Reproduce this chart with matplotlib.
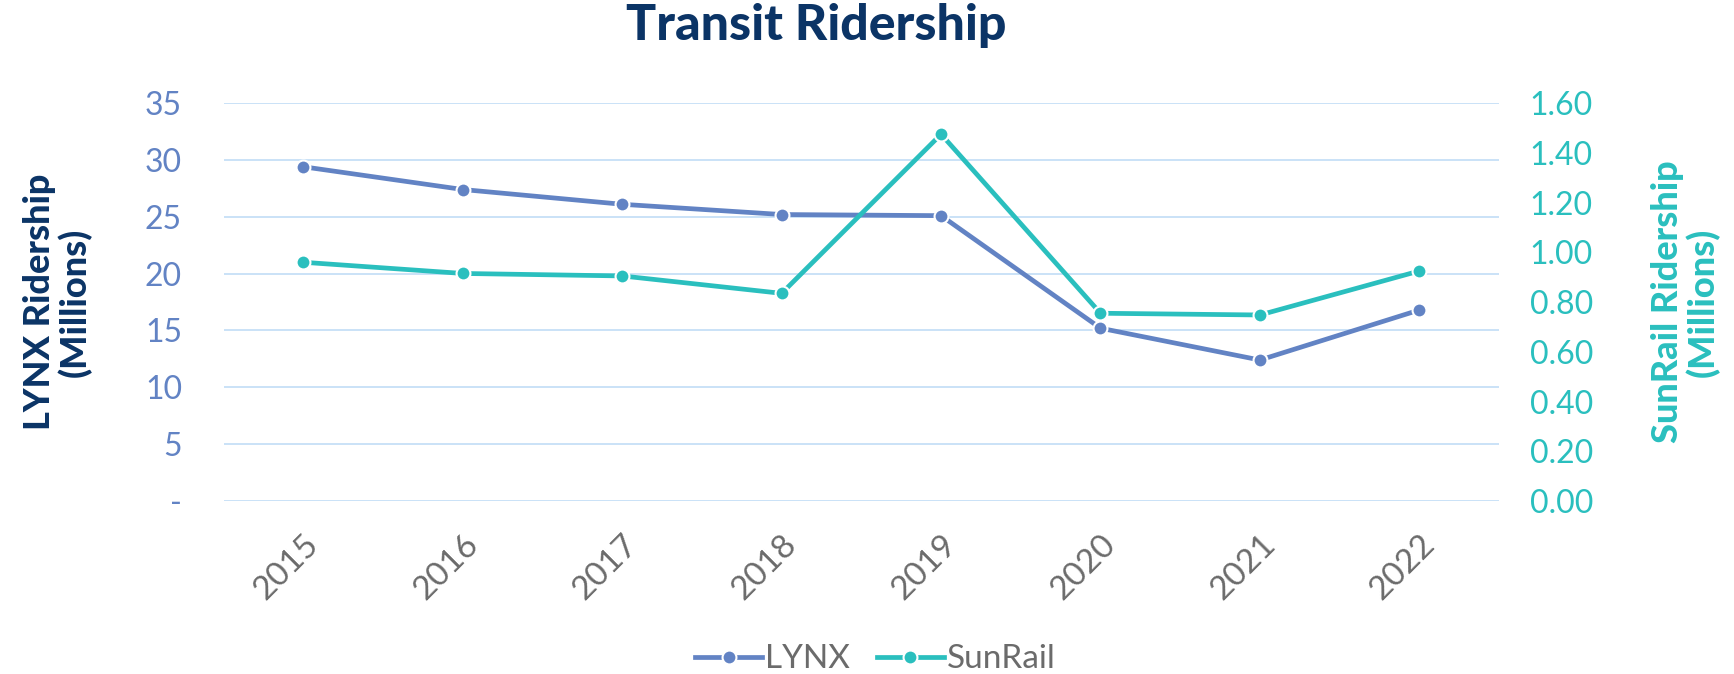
import matplotlib
matplotlib.use("Agg")
import matplotlib.pyplot as plt
from matplotlib.ticker import FuncFormatter

years = ["2015", "2016", "2017", "2018", "2019", "2020", "2021", "2022"]
lynx = [29.4, 27.4, 26.1, 25.2, 25.1, 15.2, 12.4, 16.8]        # millions
sunrail = [0.96, 0.915, 0.905, 0.835, 1.475, 0.755, 0.748, 0.925]  # millions

lynx_color = "#6283C4"
sunrail_color = "#2ABFBE"
navy = "#0B3466"
grid_color = "#C6DFF7"
gray = "#6B6B6B"

plt.rcParams['font.family'] = ['Lato', 'DejaVu Sans']

fig, ax = plt.subplots(figsize=(17.34, 6.74), dpi=100)
fig.subplots_adjust(left=0.129, right=0.8645, top=0.847, bottom=0.2567)
ax2 = ax.twinx()

x = list(range(len(years)))
l1, = ax.plot(x, lynx, color=lynx_color, lw=3.4, marker='o', ms=10,
              mfc=lynx_color, mec='white', mew=1.5, label="LYNX", zorder=3)
l2, = ax2.plot(x, sunrail, color=sunrail_color, lw=3.4, marker='o', ms=10,
               mfc=sunrail_color, mec='white', mew=1.5, label="SunRail", zorder=3)

ax.set_xlim(-0.5, len(years) - 0.5)
ax.set_ylim(0, 35)
ax.set_yticks(range(0, 36, 5))
ax.yaxis.set_major_formatter(FuncFormatter(lambda v, p: "-" if v == 0 else f"{v:.0f}"))
ax2.set_ylim(0, 1.6)
ax2.set_yticks([i * 0.2 for i in range(9)])
ax2.yaxis.set_major_formatter(FuncFormatter(lambda v, p: f"{v:.2f}"))

ax.grid(axis='y', color=grid_color, lw=1.3)
ax.set_axisbelow(True)
for a in (ax, ax2):
    for s in a.spines.values():
        s.set_visible(False)
    a.tick_params(length=0)

ax.set_xticks(x)
ax.set_xticklabels(years, rotation=45, ha='right', rotation_mode='anchor',
                   fontsize=24, color=gray)
ax.tick_params(axis='x', pad=20)
ax.tick_params(axis='y', labelsize=23, labelcolor=lynx_color, pad=30)
ax2.tick_params(axis='y', labelsize=23, labelcolor=sunrail_color, pad=22)

ax.set_ylabel("LYNX Ridership\n(Millions)", fontsize=26, fontweight='black',
              color=navy, linespacing=1.05, labelpad=38)
ax2.set_ylabel("SunRail Ridership\n(Millions)", fontsize=26, fontweight='black',
               color=sunrail_color, linespacing=1.05, rotation=90, labelpad=42)

fig.suptitle("Transit Ridership", fontsize=36, fontweight='black', color=navy,
             x=0.471, y=0.995)

fig.legend(handles=[l1, l2], loc='lower center', bbox_to_anchor=(0.505, -0.045),
           ncol=2, frameon=False, fontsize=24, labelcolor=gray,
           handlelength=2.0, handletextpad=0.1, columnspacing=0.8)

fig.savefig("out.png", dpi=100)
